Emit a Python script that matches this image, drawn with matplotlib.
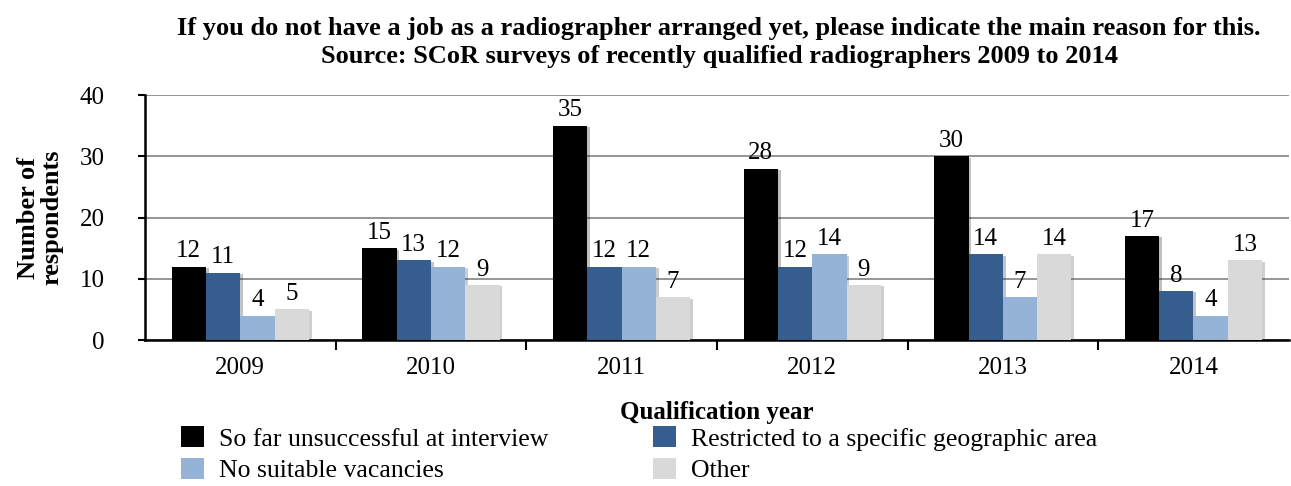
import numpy as np
import matplotlib.pyplot as plt
import matplotlib.patheffects as pe

plt.rcParams['font.family'] = ['Liberation Serif', 'DejaVu Serif']

years = ['2009', '2010', '2011', '2012', '2013', '2014']
series_names = ['So far unsuccessful at interview',
                'Restricted to a specific geographic area',
                'No suitable vacancies',
                'Other']
interview = [12, 15, 35, 28, 30, 17]
restricted = [11, 13, 12, 12, 14, 8]
no_vacancies = [4, 12, 12, 14, 7, 4]
other = [5, 9, 7, 9, 14, 13]
colors = ['#000000', '#355E8F', '#95B3D7', '#D9D9D9']

fig = plt.figure(figsize=(12.91, 4.86), dpi=100)
ax = fig.add_axes([0.1123, 0.3004, 0.886, 0.5041])

x = np.arange(len(years))
w = 0.18
shadow = [pe.SimplePatchShadow(offset=(2, -1), alpha=0.25), pe.Normal()]
handles = []
for i, (vals, name, c) in enumerate(zip([interview, restricted, no_vacancies, other],
                                        series_names, colors)):
    pos = x + (i - 1.5) * w
    b = ax.bar(pos, vals, w, color=c, label=name, zorder=3)
    for r in b:
        r.set_path_effects(shadow)
    handles.append(b)
    for p, v in zip(pos, vals):
        ax.text(p, v + 0.7, str(v), ha='center', va='bottom', fontsize=18, zorder=4)

ax.set_xlim(-0.5, len(years) - 0.5)
ax.set_ylim(0, 40)
ax.set_yticks([0, 10, 20, 30, 40])
ax.set_xticks(x)
ax.set_xticklabels(years)
ax.set_xticks(np.arange(len(years) - 1) + 0.5, minor=True)
ax.tick_params(axis='x', which='major', length=0, labelsize=18, pad=12)
ax.tick_params(axis='x', which='minor', length=7, width=1.5, direction='out')
ax.tick_params(axis='y', length=5, width=1.5, direction='out', labelsize=18, pad=24)
ax.grid(axis='y', color='#8c8c8c', linewidth=1.3, zorder=0)
for s in ['top', 'right']:
    ax.spines[s].set_visible(False)
ax.spines['left'].set_linewidth(1.8)
ax.spines['bottom'].set_linewidth(1.8)

ax.set_ylabel('Number of\nrespondents', fontsize=19, fontweight='bold', labelpad=12,
              linespacing=1.0)
ax.set_xlabel('Qualification year', fontsize=18, fontweight='bold', labelpad=16)

fig.text(0.557, 0.965, 'If you do not have a job as a radiographer arranged yet, please indicate the main reason for this.\n'
         'Source: SCoR surveys of recently qualified radiographers 2009 to 2014',
         ha='center', va='top', fontsize=19, fontweight='bold', linespacing=1.3)

# legend fills column-wise, so reorder to get the row layout of the original
order = [0, 2, 1, 3]
leg = fig.legend(handles=[handles[k] for k in order], labels=[series_names[k] for k in order],
                 loc='lower left', bbox_to_anchor=(0.122, -0.04), ncol=2, frameon=False,
                 fontsize=18.5, handlelength=0.9, handleheight=0.9, handletextpad=0.6,
                 columnspacing=4.05, labelspacing=0.28)
for h in leg.legend_handles:
    h.set_path_effects([])

fig.savefig('out.png', dpi=100)
